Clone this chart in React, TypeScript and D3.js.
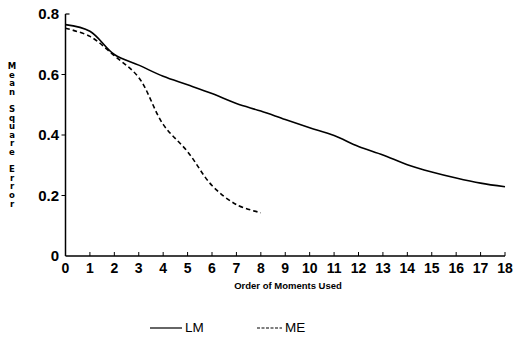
import React from 'react';
import * as d3 from 'd3';

// values
const orders = d3.range(0, 19);
const lmValues = [0.765, 0.743, 0.666, 0.631, 0.594, 0.566, 0.537, 0.504, 0.479, 0.451, 0.424, 0.398, 0.362, 0.334, 0.302, 0.278, 0.258, 0.241, 0.229];
const meOrders = d3.range(0, 9);
const meValues = [0.753, 0.726, 0.662, 0.59, 0.435, 0.345, 0.233, 0.17, 0.143];
const yTicks = [0, 0.2, 0.4, 0.6, 0.8];
const yTickLabels = ['0', '0.2', '0.4', '0.6', '0.8'];
const yTitle = 'Mean Square Error';
const xTitle = 'Order of Moments Used';
const legendItems = ['LM', 'ME'];

const W = 516;
const H = 337;

export default () => {
  const x = d3.scaleLinear().domain([0, 18]).range([65.5, 505]);
  const y = d3.scaleLinear().domain([0, 0.8]).range([256, 14]);

  const line = d3.line<[number, number]>()
    .x(d => x(d[0]))
    .y(d => y(d[1]))
    .curve(d3.curveCatmullRom.alpha(0.5));

  const lmPath = line(orders.map((o, i) => [o, lmValues[i]]));
  const mePath = line(meOrders.map((o, i) => [o, meValues[i]]));

  const tickFont = { fontFamily: 'Liberation Sans, Arial, sans-serif', fontWeight: 700, fontSize: 14 };

  return (
    <svg width={W} height={H} style={{ position: 'absolute', left: 0, top: 0, background: '#fff' }}>
      {/* axes */}
      <line x1={x(0)} x2={x(0)} y1={y(0.8)} y2={y(0)} stroke="#000" strokeWidth={1.5} />
      <line x1={x(0)} x2={x(18)} y1={y(0)} y2={y(0)} stroke="#000" strokeWidth={1.5} />
      <line x1={x(0)} x2={x(0) + 4} y1={y(0.8)} y2={y(0.8)} stroke="#000" strokeWidth={1.2} />

      {yTicks.map((t, i) => (
        <g key={'y' + i}>
          {t > 0 && t < 0.8 && (
            <line x1={x(0) - 4} x2={x(0)} y1={y(t)} y2={y(t)} stroke="#000" strokeWidth={1} />
          )}
          <text x={59} y={y(t) + 5} textAnchor="end" style={{ ...tickFont, fontSize: 15 }}>{yTickLabels[i]}</text>
        </g>
      ))}

      {orders.map(o => (
        <g key={'x' + o}>
          {o > 0 && <line x1={x(o)} x2={x(o)} y1={y(0)} y2={y(0) - 4} stroke="#000" strokeWidth={1} />}
          <text x={x(o)} y={273} textAnchor="middle" style={tickFont}>{String(o)}</text>
        </g>
      ))}

      {/* y title, letters stacked */}
      {yTitle.split('').map((ch, i) => (
        <text key={'t' + i} x={12} y={69 + i * 8.6} textAnchor="middle"
          style={{ fontFamily: 'DejaVu Sans, sans-serif', fontWeight: 700, fontSize: 8.5 }}>
          {ch}
        </text>
      ))}

      <text x={288} y={289} textAnchor="middle"
        style={{ fontFamily: 'Liberation Sans, Arial, sans-serif', fontWeight: 700, fontSize: 9.5 }}>
        {xTitle}
      </text>

      {/* series */}
      <path d={lmPath || ''} fill="none" stroke="#000" strokeWidth={1.6} />
      <path d={mePath || ''} fill="none" stroke="#000" strokeWidth={1.6} strokeDasharray="4.5,3" />

      {/* legend */}
      <line x1={150} x2={182} y1={328} y2={328} stroke="#000" strokeWidth={1.2} />
      <text x={185} y={332} style={{ fontFamily: 'Liberation Sans, Arial, sans-serif', fontSize: 13.5 }}>{legendItems[0]}</text>
      <line x1={257} x2={282} y1={328} y2={328} stroke="#000" strokeWidth={1.2} strokeDasharray="3,1.5" />
      <text x={285} y={332} style={{ fontFamily: 'Liberation Sans, Arial, sans-serif', fontSize: 13.5 }}>{legendItems[1]}</text>
    </svg>
  );
};
